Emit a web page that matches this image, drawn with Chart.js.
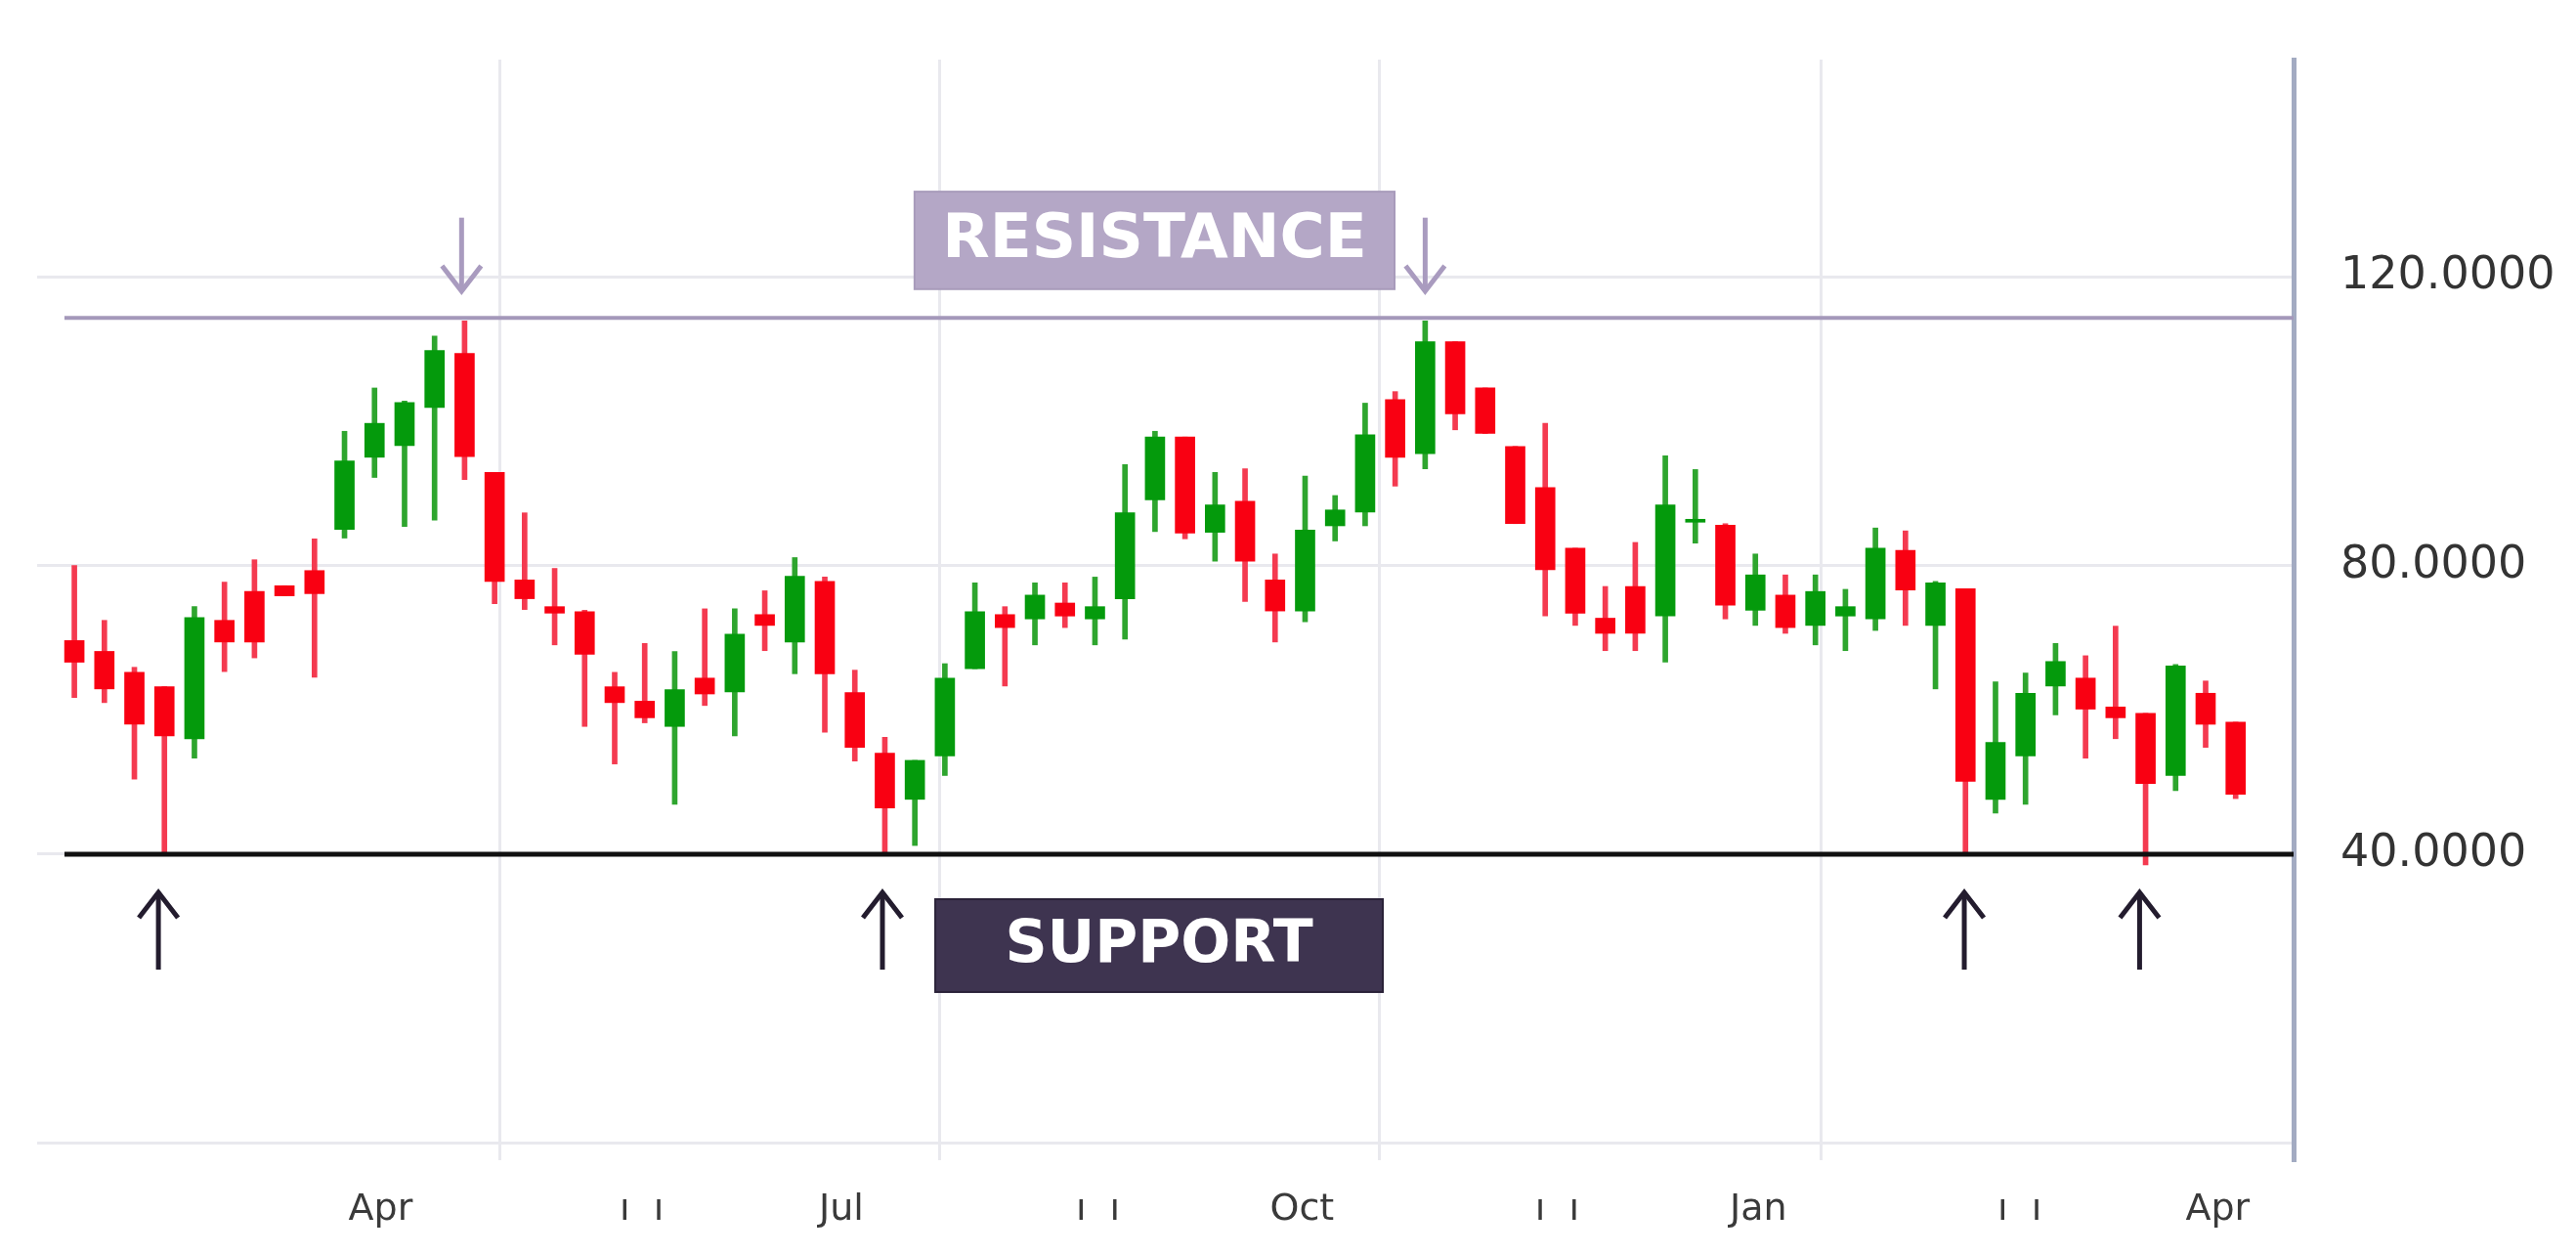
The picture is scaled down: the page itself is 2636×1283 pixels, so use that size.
<!DOCTYPE html>
<html>
<head>
<meta charset="utf-8">
<title>Support and resistance</title>
<script src="https://cdn.jsdelivr.net/npm/chart.js@4.4.1/dist/chart.umd.min.js"></script>
<style>
  html, body { margin: 0; padding: 0; background: #fff; }
  canvas { display: block; }
</style>
</head>
<body>
<canvas id="mycanvas" width="2636" height="1283"></canvas>
<script>
// weekly candles, values
var open  = [69.6, 68.1, 65.2, 63.2, 56.0, 72.4, 76.4, 77.2, 79.3, 85.0,
             95.0, 96.6, 101.9, 109.4, 92.9, 78.0, 74.3, 73.6, 63.2, 61.2,
             57.7, 64.4, 62.5, 73.2, 69.4, 77.8, 62.4, 54.0, 47.6, 53.6,
             65.7, 73.2, 72.6, 74.8, 72.6, 75.4, 89.1, 97.8, 84.6, 88.9,
             78.0, 73.7, 85.5, 87.4, 103.0, 95.5, 111.0, 104.6, 96.5, 90.8,
             82.4, 72.7, 77.1, 73.0, 86.0, 85.6, 73.8, 75.9, 71.7, 73.0,
             72.6, 82.1, 71.7, 76.8, 47.6, 53.6, 63.3, 64.4, 60.4, 59.5,
             50.9, 62.3, 58.3];
var high  = [80.0, 72.4, 65.9, 63.2, 74.3, 77.7, 80.8, 77.2, 83.7, 98.6,
             104.6, 102.8, 111.8, 113.9, 92.9, 87.3, 79.6, 73.8, 65.2, 69.2,
             68.1, 74.0, 74.0, 76.5, 81.1, 78.4, 65.5, 56.2, 53.0, 66.4,
             77.6, 74.3, 77.6, 77.6, 78.4, 94.0, 98.6, 97.8, 92.9, 93.4,
             81.6, 92.4, 89.7, 102.5, 104.1, 113.9, 111.0, 104.6, 96.5, 99.7,
             82.4, 77.1, 83.2, 95.2, 93.3, 85.8, 81.6, 78.7, 78.7, 76.7,
             85.2, 84.8, 77.8, 76.8, 63.9, 65.1, 69.2, 67.5, 71.6, 59.5,
             66.3, 64.0, 58.3];
var low   = [61.7, 61.0, 50.4, 40.1, 53.3, 65.3, 67.2, 75.8, 64.5, 83.8,
             92.2, 85.4, 86.3, 91.9, 74.7, 73.9, 69.0, 57.7, 52.5, 58.2,
             46.9, 60.6, 56.4, 68.2, 65.0, 56.9, 52.9, 40.1, 41.2, 50.9,
             65.7, 63.3, 69.0, 71.4, 69.0, 69.8, 84.7, 83.7, 80.6, 75.0,
             69.4, 72.2, 83.4, 85.5, 91.0, 93.4, 98.8, 98.3, 85.8, 73.0,
             71.7, 68.2, 68.2, 66.6, 83.1, 72.6, 71.7, 70.6, 69.0, 68.2,
             71.0, 71.7, 62.9, 40.1, 45.7, 46.9, 59.3, 53.3, 56.0, 38.5,
             48.8, 54.8, 47.7];
var close = [66.6, 62.9, 58.0, 56.4, 72.8, 69.4, 69.4, 75.8, 76.1, 94.5,
             99.7, 102.6, 109.8, 95.1, 77.8, 75.4, 73.4, 67.7, 61.0, 58.9,
             62.8, 62.2, 70.5, 71.7, 78.5, 65.0, 54.8, 46.4, 53.0, 64.4,
             73.6, 71.4, 75.9, 73.0, 74.3, 87.3, 97.8, 84.5, 88.4, 80.6,
             73.7, 84.9, 87.7, 98.1, 95.0, 111.0, 101.0, 98.3, 85.8, 79.4,
             73.4, 70.6, 70.6, 88.4, 86.4, 74.5, 78.7, 71.4, 76.4, 74.3,
             82.4, 76.6, 77.6, 50.1, 55.5, 62.3, 66.7, 60.1, 58.9, 49.8,
             66.1, 58.0, 48.3];

// axis labels, placed in candle-index units
var xLabels  = ['Apr', 'ı  ı', 'Jul', 'ı  ı', 'Oct', 'ı  ı', 'Jan', 'ı  ı', 'Apr'];
var xLabelAt = [10.2, 18.9, 25.55, 34.1, 40.9, 49.4, 56.1, 64.8, 71.4];
var xGridAt  = [14.16, 28.84, 43.49, 58.2];
var yTicks   = [0, 40, 80, 120];

var resistance = 114.3;
var support = 40;
var resistanceTouches = [12.9, 45];
var supportTouches = [2.8, 26.92, 62.96, 68.8];

var X_MIN = -1.24, X_MAX = 73.93;

var idx = open.map(function(v, i){ return i; });
var up = open.map(function(o, i){ return close[i] >= o; });

// boxes and arrows drawn on top of the candles
var notes = {
    id: 'notes',
    afterDatasetsDraw: function(chart){
        var ctx = chart.ctx;
        var xs = chart.scales.x, ys = chart.scales.y;

        function box(x0, x1, y0, y1, fill, edge, text, size){
            var l = xs.getPixelForValue(x0), r = xs.getPixelForValue(x1);
            var t = ys.getPixelForValue(y0), b = ys.getPixelForValue(y1);
            ctx.save();
            ctx.fillStyle = fill;
            ctx.fillRect(l, t, r - l, b - t);
            ctx.strokeStyle = edge;
            ctx.lineWidth = 2;
            ctx.strokeRect(l, t, r - l, b - t);
            ctx.fillStyle = '#ffffff';
            ctx.font = 'bold ' + size + 'px "DejaVu Sans"';
            ctx.textAlign = 'center';
            ctx.textBaseline = 'middle';
            ctx.fillText(text, (l + r) / 2, (t + b) / 2 + 1);
            ctx.restore();
        }

        function arrow(x, yTail, yTip, color){
            var px = xs.getPixelForValue(x);
            var a = ys.getPixelForValue(yTail), b = ys.getPixelForValue(yTip);
            var dir = b > a ? 1 : -1;
            ctx.save();
            ctx.strokeStyle = color;
            ctx.lineWidth = 5;
            ctx.lineJoin = 'miter';
            ctx.beginPath();
            ctx.moveTo(px, a);
            ctx.lineTo(px, b);
            ctx.stroke();
            ctx.beginPath();
            ctx.moveTo(px - 20, b - dir * 26);
            ctx.lineTo(px, b);
            ctx.lineTo(px + 20, b - dir * 26);
            ctx.stroke();
            ctx.restore();
        }

        box(27.99, 43.98, 131.8, 118.3, '#b4a7c6', '#a89bbb', 'RESISTANCE', 63);
        box(28.68, 43.59, 33.76, 20.9, '#3e3450', '#2a2238', 'SUPPORT', 60);

        resistanceTouches.forEach(function(i){ arrow(i, 128.2, 118.0, '#a99bbf'); });
        supportTouches.forEach(function(i){ arrow(i, 24.0, 34.7, '#231c2e'); });
    }
};

var chartdata = {
    datasets: [
        {
            type: 'line',
            label: 'Resistance',
            data: [{x: -0.33, y: resistance}, {x: X_MAX, y: resistance}],
            borderColor: '#a498ba',
            borderWidth: 4,
            pointRadius: 0,
            order: 0
        },
        {
            type: 'line',
            label: 'Support',
            data: [{x: -0.33, y: support}, {x: X_MAX, y: support}],
            borderColor: '#111111',
            borderWidth: 5,
            pointRadius: 0,
            order: 0
        },
        {
            label: 'Body',
            data: idx.map(function(i){
                return {x: i, y: [Math.min(open[i], close[i]), Math.max(open[i], close[i])]};
            }),
            backgroundColor: up.map(function(u){ return u ? '#049a0c' : '#f90012'; }),
            barThickness: 20,
            minBarLength: 3,
            grouped: false,
            order: 1
        },
        {
            label: 'Wick',
            data: idx.map(function(i){ return {x: i, y: [low[i], high[i]]}; }),
            backgroundColor: up.map(function(u){ return u ? '#2ea52e' : '#f43a50'; }),
            barThickness: 5,
            grouped: false,
            order: 2
        }
    ]
};

var ctx = document.getElementById('mycanvas');

var candleChart = new Chart(ctx, {
    type: 'bar',
    data: chartdata,
    plugins: [notes],
    options: {
        responsive: false,
        animation: false,
        layout: { padding: { left: 38, top: 61, right: 0, bottom: 0 } },
        plugins: {
            legend: { display: false },
            tooltip: { enabled: false }
        },
        scales: {
            x: {
                type: 'linear',
                min: X_MIN,
                max: X_MAX,
                offset: false,
                afterBuildTicks: function(s){ s.ticks = xGridAt.map(function(v){ return {value: v}; }); },
                afterFit: function(s){ s.height = 0; s.paddingLeft = 0; s.paddingRight = 0; },
                grid: { color: '#e9e9ee', lineWidth: 3, drawTicks: false, offset: false },
                border: { display: false },
                ticks: { display: false }
            },
            x2: {
                type: 'linear',
                position: 'bottom',
                min: X_MIN,
                max: X_MAX,
                offset: false,
                afterBuildTicks: function(s){ s.ticks = xLabelAt.map(function(v){ return {value: v}; }); },
                afterFit: function(s){ s.height = 96; s.paddingLeft = 0; s.paddingRight = 0; },
                grid: { display: false },
                border: { display: false },
                ticks: {
                    autoSkip: false,
                    maxRotation: 0,
                    padding: 20,
                    color: '#3a3a3a',
                    font: { family: 'DejaVu Sans', size: 38 },
                    callback: function(v, i){ return xLabels[i]; }
                }
            },
            y: {
                type: 'linear',
                position: 'right',
                min: -2.4,
                max: 150.1,
                afterBuildTicks: function(s){ s.ticks = yTicks.map(function(v){ return {value: v}; }); },
                afterFit: function(s){ s.width = 289; s.paddingTop = 0; s.paddingBottom = 0; },
                grid: { color: '#e9e9ee', lineWidth: 3, drawTicks: false },
                border: { display: true, color: '#a3abc2', width: 5 },
                ticks: {
                    padding: 48,
                    color: '#333333',
                    font: { family: 'DejaVu Sans', size: 46 },
                    callback: function(v){ return v === 0 ? '' : v.toFixed(4); }
                }
            }
        }
    }
});
</script>
</body>
</html>
